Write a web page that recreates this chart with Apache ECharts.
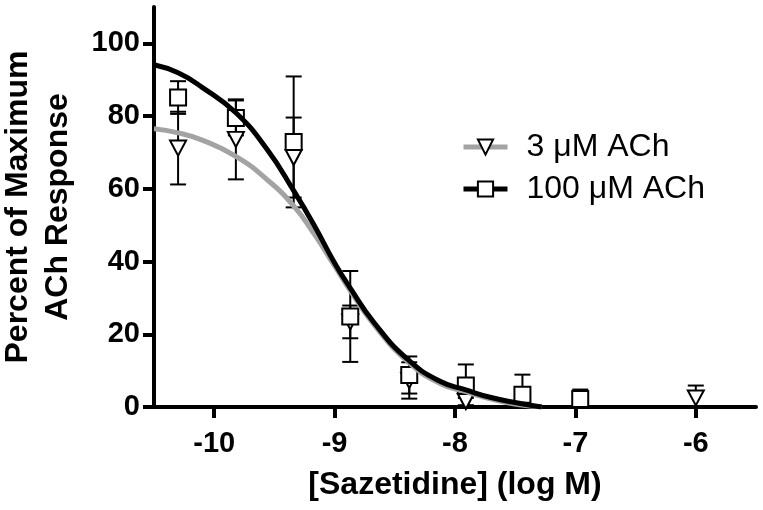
<!DOCTYPE html>
<html>
<head>
<meta charset="utf-8">
<script src="https://cdn.jsdelivr.net/npm/echarts@6/dist/echarts.min.js"></script>
<style>
html,body{margin:0;padding:0;background:#fff;}
#chart{width:763px;height:510px;}
</style>
</head>
<body>
<div id="chart"></div>
<script>
// ---- data ----
const xTicks = [-10, -9, -8, -7, -6];
const yTicks = [0, 20, 40, 60, 80, 100];

// 3 uM ACh (down triangles)
const triX   = [-10.3, -9.82, -9.34, -8.87, -8.38, -7.91, -6.0];
const triY   = [71.2, 73.6, 68.6, 23.4, 7.3, 1.5, 2.5];
const triErr = [10.0, 11.0, 11.0, 4.5, 5.0, 1.0, 3.4];

// 100 uM ACh (squares)
const sqX   = [-10.3, -9.82, -9.34, -8.87, -8.38, -7.91, -7.44, -6.96];
const sqY   = [85.1, 79.5, 72.9, 24.9, 8.8, 5.9, 3.4, 2.2];
const sqErr = [4.5, 4.8, 18.0, 12.5, 5.1, 5.8, 5.5, 2.6];

// fitted curves
const curveX     = [-10.5, -10.3, -10.1, -9.82, -9.56, -9.34, -9.17, -9.0, -8.87, -8.67, -8.39, -8.12, -7.91, -7.7, -7.48, -7.28];
const curve100uM = [94.1, 91.9, 87.9, 80.9, 70.8, 59.5, 50.0, 39.6, 32.7, 23.1, 13.0, 7.0, 4.7, 2.6, 1.1, 0];
const curve3uM   = [76.5, 75.4, 73.4, 68.9, 62.5, 55.3, 47.6, 38.8, 32.0, 22.5, 12.4, 6.4, 4.2, 2.2, 0.7, 0];

const FONT = '"Liberation Sans", Arial, sans-serif';

function pairs(xs, ys) { return xs.map((x, i) => [x, ys[i]]); }
function errData(xs, ys, es) { return xs.map((x, i) => [x, Math.max(0, ys[i] - es[i]), ys[i] + es[i]]); }

function renderErr(params, api) {
  const x = api.value(0), lo = api.value(1), hi = api.value(2);
  const pLo = api.coord([x, lo]);
  const pHi = api.coord([x, hi]);
  const hw = 8;
  const st = { stroke: '#000', lineWidth: 2 };
  return {
    type: 'group',
    children: [
      { type: 'line', shape: { x1: pLo[0], y1: pLo[1], x2: pHi[0], y2: pHi[1] }, style: st },
      { type: 'line', shape: { x1: pHi[0] - hw, y1: pHi[1], x2: pHi[0] + hw, y2: pHi[1] }, style: st },
      { type: 'line', shape: { x1: pLo[0] - hw, y1: pLo[1], x2: pLo[0] + hw, y2: pLo[1] }, style: st }
    ]
  };
}

const chart = echarts.init(document.getElementById('chart'), null, { renderer: 'canvas' });
const axisLabelStyle = { color: '#000', fontSize: 29, fontWeight: 'bold', fontFamily: FONT };

chart.setOption({
  animation: false,
  backgroundColor: '#fff',
  grid: { left: 154, right: 7, top: 7, bottom: 103, containLabel: false, outerBoundsMode: 'none' },
  legend: {
    orient: 'vertical',
    left: 456,
    top: 126,
    itemWidth: 44,
    itemHeight: 19,
    itemGap: 10,
    data: ['3 μM ACh', '100 μM ACh'],
    lineStyle: { width: 5 },
    textStyle: { color: '#000', fontSize: 32, fontFamily: FONT, padding: [0, 0, 0, 14] }
  },
  xAxis: {
    type: 'value',
    min: -10.5,
    max: -5.5,
    name: '[Sazetidine] (log M)',
    nameLocation: 'middle',
    nameGap: 62,
    nameTextStyle: { color: '#000', fontSize: 32, fontWeight: 'bold', fontFamily: FONT },
    axisLine: { onZero: false, lineStyle: { color: '#000', width: 4 } },
    axisTick: { show: true, length: 11, inside: false, customValues: xTicks, lineStyle: { color: '#000', width: 4 } },
    axisLabel: Object.assign({ margin: 22, customValues: xTicks, formatter: v => String(v) }, axisLabelStyle),
    splitLine: { show: false }
  },
  yAxis: {
    type: 'value',
    min: 0,
    max: 110,
    name: 'Percent of Maximum\nACh Response',
    nameLocation: 'middle',
    nameRotate: 90,
    nameGap: 76,
    nameTextStyle: { color: '#000', fontSize: 32, fontWeight: 'bold', fontFamily: FONT, lineHeight: 40 },
    axisLine: { show: true, lineStyle: { color: '#000', width: 4 } },
    axisTick: { show: true, length: 11, inside: false, customValues: yTicks, lineStyle: { color: '#000', width: 4 } },
    axisLabel: Object.assign({ margin: 14, customValues: yTicks }, axisLabelStyle),
    splitLine: { show: false }
  },
  series: [
    { name: 'err3', type: 'custom', renderItem: renderErr, data: errData(triX, triY, triErr), z: 2, silent: true },
    { name: 'err100', type: 'custom', renderItem: renderErr, data: errData(sqX, sqY, sqErr), z: 2, silent: true },
    {
      name: 'pts3', type: 'scatter', data: pairs(triX, triY), z: 3,
      symbol: 'triangle', symbolRotate: 180, symbolSize: [16, 15],
      itemStyle: { color: '#fff', borderColor: '#000', borderWidth: 2, opacity: 1 }
    },
    {
      name: 'pts100', type: 'scatter', data: pairs(sqX, sqY), z: 3,
      symbol: 'rect', symbolSize: 16,
      itemStyle: { color: '#fff', borderColor: '#000', borderWidth: 2, opacity: 1 }
    },
    {
      name: '3 μM ACh', type: 'line', data: pairs(curveX, curve3uM), z: 4,
      smooth: true, showSymbol: false,
      symbol: 'triangle', symbolRotate: 180, symbolSize: 14,
      itemStyle: { color: '#fff', borderColor: '#000', borderWidth: 2 },
      lineStyle: { color: '#a3a3a3', width: 5 }
    },
    {
      name: '100 μM ACh', type: 'line', data: pairs(curveX, curve100uM), z: 5,
      smooth: true, showSymbol: false,
      symbol: 'rect', symbolSize: 14,
      itemStyle: { color: '#fff', borderColor: '#000', borderWidth: 2 },
      lineStyle: { color: '#000', width: 5 }
    }
  ]
});
</script>
</body>
</html>
